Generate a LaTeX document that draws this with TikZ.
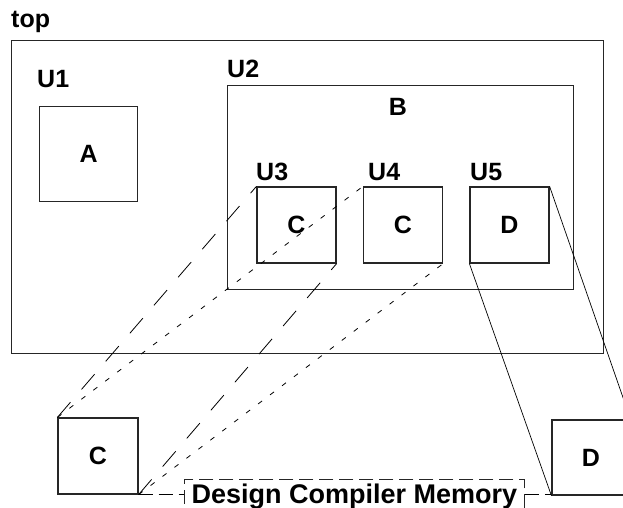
\documentclass[tikz,border=0pt]{standalone}
\usepackage{fontspec}
\setmainfont{Liberation Sans}

\begin{document}
\begin{tikzpicture}[x=1pt,y=-1pt,
    font=\fontsize{25}{29}\selectfont\bfseries,
    outerbox/.style={draw=boxcolor,line width=1.2pt,inner sep=0pt,anchor=north west},
    cell/.style={draw=boxcolor,line width=1.2pt,inner sep=0pt,minimum width=79pt,minimum height=76pt},
    instname/.style={anchor=base west,inner sep=0pt},
    longlink/.style={line width=0.8pt,dash pattern=on 20pt off 17pt},
    shortlink/.style={line width=0.8pt,dash pattern=on 5pt off 10pt},
    instlink/.style={line width=0.7pt},
    memlink/.style={line width=0.8pt,dash pattern=on 14pt off 6pt}]

    \colorlet{boxcolor}{black!85}

    \useasboundingbox (0,0) rectangle (623,508);
    \clip (0,0) rectangle (623,508);

    \node[outerbox,minimum width=592pt,minimum height=313pt] (top) at (11,40) {};
    \node[instname] (topname) at (11,28) {top};

    \node[outerbox,minimum width=98pt,minimum height=95pt] (a) at (39,106) {A};
    \node[instname] (u1name) at (37,88) {U1};

    \node[outerbox,minimum width=346pt,minimum height=204pt] (b) at (227,85) {};
    \node[instname] (u2name) at (227,78) {U2};
    \node[anchor=base,inner sep=0pt] (bname) at (398,115) {B};

    \node[cell] (u3) at (296.5,225) {C};
    \node[cell] (u4) at (403,225) {C};
    \node[cell] (u5) at (509.5,225) {D};
    \node[instname] (u3name) at (256,180) {U3};
    \node[instname] (u4name) at (368,180) {U4};
    \node[instname] (u5name) at (470,180) {U5};

    \node[cell,minimum width=80pt] (cmem) at (98,456) {C};
    \node[cell,minimum width=78pt,minimum height=75pt] (dmem) at (591,457.5) {D};

    \node[draw=boxcolor,memlink,inner sep=0pt,anchor=north west,
          minimum width=340pt,minimum height=29pt,text height=22pt,text depth=3pt,
          font=\fontsize{27}{31}\selectfont\bfseries] (mem) at (184,479) {Design Compiler Memory};

    \draw[longlink] (cmem.north west) -- (u3.north west);
    \draw[longlink] (cmem.south east) -- (u3.south east);
    \draw[shortlink] (cmem.north west) -- (u4.north west);
    \draw[shortlink] (cmem.south east) -- (u4.south east);

    \draw[instlink] (u5.south west) -- (dmem.south west);
    \draw[instlink] (u5.north east) -- (dmem.north east);

    \draw[memlink] (cmem.east |- mem.west) -- (mem.west);
    \draw[memlink] (mem.east) -- (dmem.west |- mem.east);

\end{tikzpicture}
\end{document}
